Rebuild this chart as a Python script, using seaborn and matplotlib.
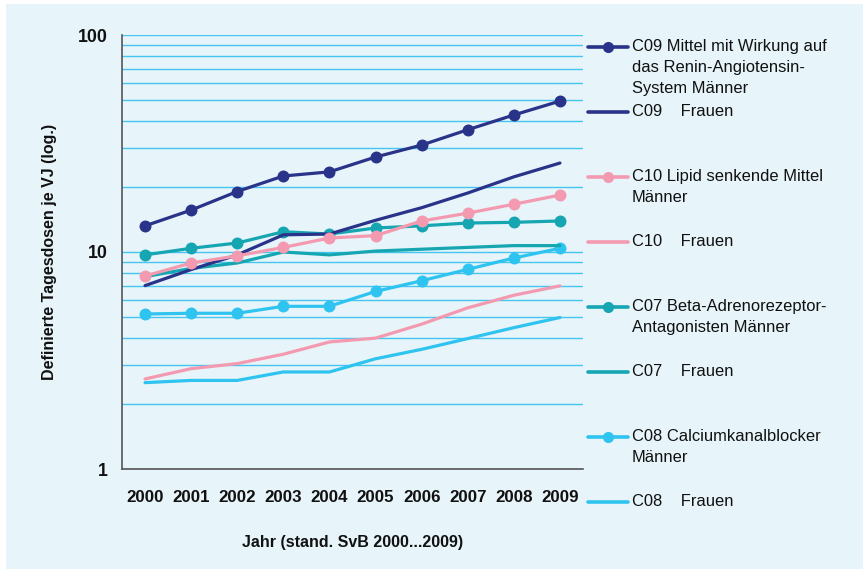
"""
Definierte Tagesdosen je VJ (log.) 2000-2009, C07-C10 nach Geschlecht
"""

import numpy as np
import pandas as pd
import seaborn as sns
import matplotlib.pyplot as plt
from matplotlib.lines import Line2D
from matplotlib.patches import Rectangle
from matplotlib.ticker import LogLocator, NullFormatter

years = ["2000", "2001", "2002", "2003", "2004", "2005", "2006", "2007", "2008", "2009"]

c09_m = [13.2, 15.6, 19.0, 22.4, 23.4, 27.4, 31.1, 36.6, 42.8, 49.6]
c09_f = [7.0, 8.3, 9.7, 12.0, 12.1, 14.0, 16.0, 18.7, 22.2, 25.7]
c10_m = [7.75, 8.9, 9.6, 10.5, 11.6, 11.9, 13.9, 15.1, 16.6, 18.3]
c10_f = [2.6, 2.9, 3.06, 3.38, 3.85, 4.01, 4.65, 5.53, 6.32, 6.98]
c07_m = [9.7, 10.4, 11.0, 12.4, 12.1, 12.9, 13.2, 13.6, 13.7, 13.9]
c07_f = [7.7, 8.4, 8.9, 10.0, 9.7, 10.1, 10.3, 10.5, 10.7, 10.7]
c08_m = [5.18, 5.22, 5.22, 5.62, 5.62, 6.58, 7.37, 8.32, 9.38, 10.4]
c08_f = [2.5, 2.56, 2.56, 2.8, 2.8, 3.22, 3.56, 3.99, 4.48, 4.99]

labels = [
    ["C09 Mittel mit Wirkung auf", "das Renin-Angiotensin-", "System Männer"],
    ["C09    Frauen"],
    ["C10 Lipid senkende Mittel", "Männer"],
    ["C10    Frauen"],
    ["C07 Beta-Adrenorezeptor-", "Antagonisten Männer"],
    ["C07    Frauen"],
    ["C08 Calciumkanalblocker", "Männer"],
    ["C08    Frauen"],
]
series = [c09_m, c09_f, c10_m, c10_f, c07_m, c07_f, c08_m, c08_f]
colors = ["#29338a", "#29338a", "#f49ab0", "#f49ab0",
          "#15a6b2", "#15a6b2", "#2fc4f0", "#2fc4f0"]
has_marker = [True, False] * 4

bg = "#e7f4fa"
grid_col = "#45c5ef"

sns.set_theme(style="white")
plt.rcParams["font.family"] = ["Liberation Sans", "DejaVu Sans"]

W, H = 863, 569
fig = plt.figure(figsize=(W / 100, H / 100), dpi=100)
fig.patch.set_facecolor("white")
fig.patches.append(Rectangle((6 / W, 0), 1, 1 - 4 / H, transform=fig.transFigure,
                             facecolor=bg, edgecolor="none", zorder=-10))

ax = fig.add_axes([122 / W, 1 - 469 / H, (583 - 122) / W, (469 - 35) / H])
ax.set_facecolor(bg)

x = np.arange(len(years))
# Frauen-Linien zuerst, Männer mit Markern obendrauf
order = [7, 6, 5, 4, 3, 1, 2, 0]
for i in order:
    df = pd.DataFrame({"x": x, "y": series[i]})
    sns.lineplot(data=df, x="x", y="y", ax=ax, color=colors[i], linewidth=2.3,
                 marker="o" if has_marker[i] else None, markersize=8.6,
                 markeredgewidth=0, zorder=3, legend=False)

ax.set_yscale("log")
ax.set_ylim(1, 100)
ax.set_xlim(-0.5, len(years) - 0.5)
ax.set_xticks(x)
ax.set_xticklabels(years, fontsize=12.2, fontweight="bold", color="#111111")
ax.set_yticks([1, 10, 100])
ax.set_yticklabels(["1", "10", "100"], fontsize=12.8, fontweight="bold", color="#111111")
ax.yaxis.set_minor_locator(LogLocator(base=10, subs=np.arange(2, 10)))
ax.yaxis.set_minor_formatter(NullFormatter())
ax.tick_params(axis="x", length=0, pad=15)
ax.tick_params(axis="y", which="major", length=7, width=1, color="#444444", pad=3, direction="out")
ax.tick_params(axis="y", which="minor", length=0)

ax.grid(True, axis="y", which="both", color=grid_col, linewidth=1, zorder=0)
ax.grid(False, axis="x")
ax.set_axisbelow(True)
for s in ["top", "right"]:
    ax.spines[s].set_visible(False)
for s in ["left", "bottom"]:
    ax.spines[s].set_color("#555555")
    ax.spines[s].set_linewidth(1.2)

ax.set_xlabel("Jahr (stand. SvB 2000...2009)", fontsize=11.5, fontweight="bold",
              color="#111111", labelpad=22)
ax.set_ylabel("Definierte Tagesdosen je VJ (log.)", fontsize=11.5, fontweight="bold",
              color="#111111", labelpad=15)

# Legende rechts, Linie auf Höhe der ersten Textzeile
for k, lines in enumerate(labels):
    yp = 46.7 + k * 65.0
    yf = 1 - yp / H
    fig.add_artist(Line2D([588 / W, 628 / W], [yf, yf], transform=fig.transFigure,
                          color=colors[k], linewidth=2.6))
    if has_marker[k]:
        fig.add_artist(Line2D([608 / W], [yf], transform=fig.transFigure,
                              color=colors[k], marker="o", markersize=8,
                              markeredgewidth=0, linestyle="none"))
    for j, t in enumerate(lines):
        fig.text(632 / W, 1 - (yp + j * 20.8) / H, t, fontsize=11.9, color="#111111",
                 va="center", ha="left")

fig.savefig("out.png", dpi=100, facecolor="white")
